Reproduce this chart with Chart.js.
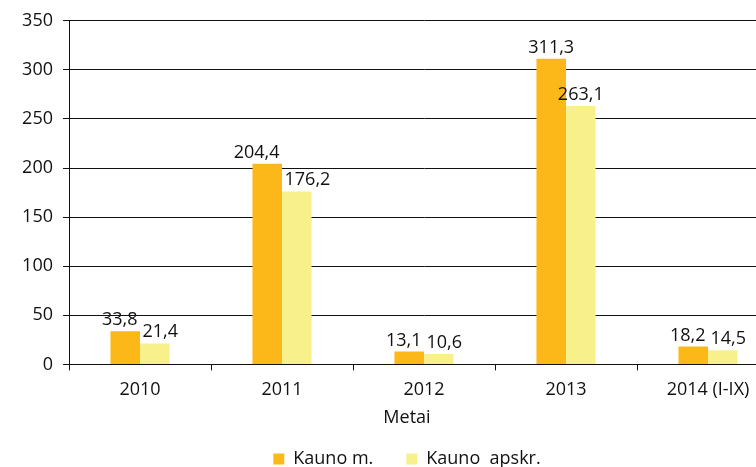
<!DOCTYPE html>
<html>
<head>
<meta charset="utf-8">
<script src="https://cdn.jsdelivr.net/npm/chart.js@4.4.1/dist/chart.umd.min.js"></script>
<style>
  html, body { margin: 0; padding: 0; background: #fff; overflow: hidden; }
  #wrap { position: relative; width: 779px; height: 467px; }
</style>
</head>
<body>
<div id="wrap"><canvas id="chart"></canvas></div>
<script>
const years = ["2010", "2011", "2012", "2013", "2014 (I-IX)"];
const kaunoMiestas = [33.8, 204.4, 13.1, 311.3, 18.2];
const kaunoApskritis = [21.4, 176.2, 10.6, 263.1, 14.5];
const seriesNames = ["Kauno m.", "Kauno  apskr."];
const seriesColors = ["#fbb818", "#f8f08b"];
const yTicks = [0, 50, 100, 150, 200, 250, 300, 350];
const axisTitle = "Metai";

const FONT = "'Open Sans', 'Noto Sans', sans-serif";
const INK = "#111";
const LINE = "#111";

function fmt(v) {
  return v.toFixed(1).replace(".", ",");
}

// value labels above the bars, pushed apart when a pair collides
const valueLabels = {
  id: "valueLabels",
  afterLayout(chart) {
    // y scale is kept narrow so title/legend center like the original;
    // widen its box to the left so tick labels aren't clipped
    chart.scales.y.left = 0;
  },
  afterDatasetsDraw(chart) {
    const ctx = chart.ctx;
    const a = chart.getDatasetMeta(0).data;
    const b = chart.getDatasetMeta(1).data;
    ctx.save();
    ctx.font = "18px " + FONT;
    ctx.fillStyle = INK;
    ctx.textAlign = "center";
    ctx.textBaseline = "alphabetic";
    a.forEach((barA, i) => {
      const barB = b[i];
      const tA = fmt(chart.data.datasets[0].data[i]);
      const tB = fmt(chart.data.datasets[1].data[i]);
      const wA = ctx.measureText(tA).width;
      const wB = ctx.measureText(tB).width;
      let xA = barA.x, xB = barB.x;
      const yA = barA.y - 6, yB = barB.y - 6;
      const overlap = (xA + wA / 2 + 5) - (xB - wB / 2);
      if (overlap > 0 && Math.abs(yA - yB) < 30) {
        xA -= overlap / 2;
        xB += overlap / 2;
      }
      ctx.fillText(tA, xA, yA);
      ctx.fillText(tB, xB, yB);
    });
    ctx.restore();
  }
};

new Chart(document.getElementById("chart"), {
  type: "bar",
  data: {
    labels: years,
    datasets: [
      { label: seriesNames[0], data: kaunoMiestas, backgroundColor: seriesColors[0], borderWidth: 0 },
      { label: seriesNames[1], data: kaunoApskritis, backgroundColor: seriesColors[1], borderWidth: 0 }
    ]
  },
  plugins: [valueLabels],
  options: {
    responsive: true,
    maintainAspectRatio: false,
    animation: false,
    categoryPercentage: 0.416,
    barPercentage: 1,
    layout: { padding: { left: 35, right: 0, top: 19, bottom: -11 } },
    plugins: {
      tooltip: { enabled: false },
      title: {
        display: true,
        text: axisTitle,
        position: "bottom",
        weight: 500,
        color: INK,
        font: { family: FONT, size: 18, weight: "normal" },
        padding: { top: 0, bottom: 15 }
      },
      legend: {
        position: "bottom",
        labels: {
          color: INK,
          font: { family: FONT, size: 18 },
          boxWidth: 11,
          boxHeight: 11,
          padding: 6,
          generateLabels(chart) {
            const items = Chart.defaults.plugins.legend.labels.generateLabels(chart);
            items[0].text = items[0].text + "\u2002\u2002\u2002";
            return items;
          }
        }
      }
    },
    scales: {
      x: {
        afterFit(scale) { scale.height = 43; },
        grid: { drawOnChartArea: false, drawTicks: true, tickLength: 6, color: LINE, lineWidth: 1 },
        border: { display: true, color: LINE, width: 1 },
        ticks: { color: INK, font: { family: FONT, size: 18 }, padding: 9, maxRotation: 0, autoSkip: false }
      },
      y: {
        min: 0,
        max: 350,
        afterFit(scale) { scale.width = 34; },
        afterBuildTicks(scale) { scale.ticks = yTicks.map((v) => ({ value: v })); },
        grid: { color: LINE, lineWidth: 1, tickLength: 6, drawTicks: true },
        border: { display: true, color: LINE, width: 1 },
        ticks: { color: INK, font: { family: FONT, size: 18 }, padding: 10 }
      }
    }
  }
});
</script>
</body>
</html>
